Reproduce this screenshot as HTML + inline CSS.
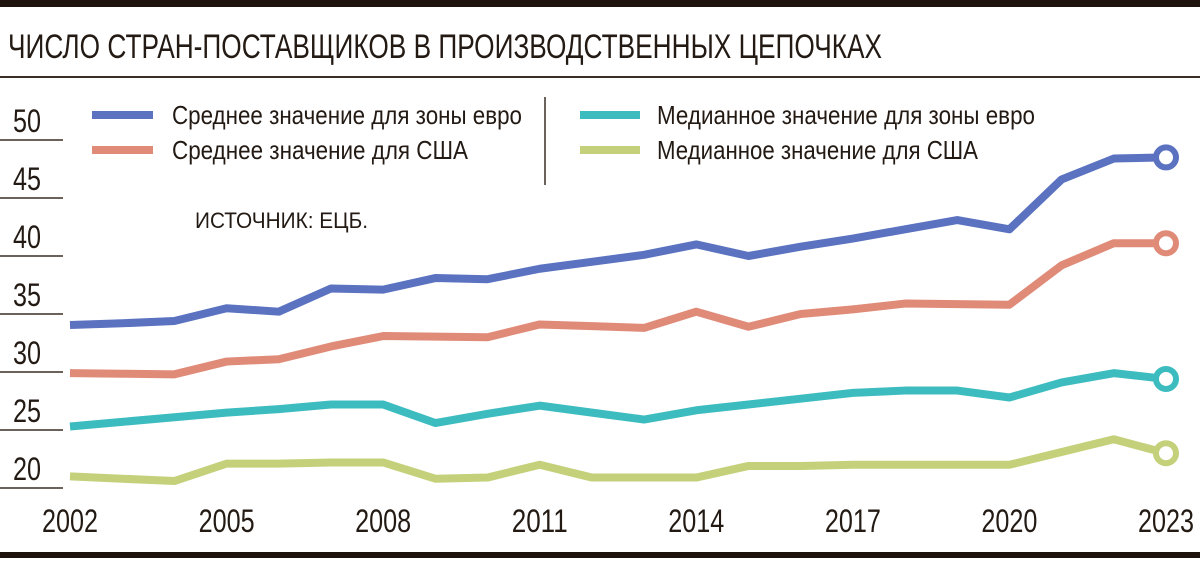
<!DOCTYPE html>
<html><head><meta charset="utf-8">
<style>
body{margin:0;width:1200px;height:558px;background:#fff;overflow:hidden;font-family:"Liberation Sans Narrow","Liberation Sans",sans-serif;color:#231a14}
svg text{font-family:"Liberation Sans Narrow","Liberation Sans",sans-serif;fill:#231a14}
</style></head>
<body>
<svg id="chart" width="1200" height="558">
<rect x="0" y="0" width="1200" height="7" fill="#1e120c"/>
<text x="8" y="58" font-size="34" textLength="874" lengthAdjust="spacingAndGlyphs">ЧИСЛО СТРАН-ПОСТАВЩИКОВ В ПРОИЗВОДСТВЕННЫХ ЦЕПОЧКАХ</text>
<line x1="0" y1="77" x2="1200" y2="77" stroke="#3a2e26" stroke-width="2"/>
<rect x="0" y="552" width="1200" height="6" fill="#1e120c"/>
<g>
<line x1="92" y1="115" x2="153" y2="115" stroke="#5a72c0" stroke-width="8"/>
<text x="172" y="124" font-size="26" textLength="350" lengthAdjust="spacingAndGlyphs">Среднее значение для зоны евро</text>
<line x1="92" y1="150" x2="153" y2="150" stroke="#e08a78" stroke-width="8"/>
<text x="172" y="159" font-size="26" textLength="296" lengthAdjust="spacingAndGlyphs">Среднее значение для США</text>
<line x1="545" y1="97" x2="545" y2="185" stroke="#3a2e26" stroke-width="1.5"/>
<line x1="580" y1="115" x2="640" y2="115" stroke="#3dbcc0" stroke-width="8"/>
<text x="657" y="124" font-size="26" textLength="378" lengthAdjust="spacingAndGlyphs">Медианное значение для зоны евро</text>
<line x1="580" y1="150" x2="640" y2="150" stroke="#c5d17a" stroke-width="8"/>
<text x="657" y="159" font-size="26" textLength="321" lengthAdjust="spacingAndGlyphs">Медианное значение для США</text>
</g>
<text x="195" y="228" font-size="22" textLength="173" lengthAdjust="spacingAndGlyphs">ИСТОЧНИК: ЕЦБ.</text>
<g id="axes"></g>
<g id="series"></g>
</svg>
<script>
const years=[2002,2003,2004,2005,2006,2007,2008,2009,2010,2011,2012,2013,2014,2015,2016,2017,2018,2019,2020,2021,2022,2023];
const meanEuro=[34.05,34.2,34.4,35.5,35.2,37.2,37.1,38.1,38.0,38.9,39.5,40.1,41.0,40.0,40.8,41.5,42.3,43.1,42.3,46.6,48.4,48.5];
const meanUS=[29.9,29.85,29.8,30.9,31.1,32.2,33.1,33.05,33.0,34.1,33.95,33.8,35.2,33.9,35.0,35.4,35.9,35.85,35.8,39.2,41.1,41.1];
const medianEuro=[25.3,25.7,26.1,26.5,26.8,27.2,27.2,25.6,26.4,27.1,26.5,25.9,26.7,27.2,27.7,28.2,28.4,28.4,27.8,29.1,29.9,29.4];
const medianUS=[21.0,20.8,20.6,22.1,22.1,22.2,22.2,20.8,20.9,22.0,20.9,20.9,20.9,21.9,21.9,22.0,22.0,22.0,22.0,23.1,24.2,23.0];
const yTicks=[20,25,30,35,40,45,50];
const xTicks=[2002,2005,2008,2011,2014,2017,2020,2023];
const NS='http://www.w3.org/2000/svg';
function xs(y){return 70+(y-2002)*(1166-70)/21;}
function ys(v){return 488-(v-20)*11.6;}
const axes=document.getElementById('axes');
const series=document.getElementById('series');
function mk(tag,attrs,parent){const e=document.createElementNS(NS,tag);for(const k in attrs)e.setAttribute(k,attrs[k]);parent.appendChild(e);return e;}
yTicks.forEach(t=>{
  const l=mk('line',{x1:0,x2:63,y1:ys(t),y2:ys(t),stroke:'#3a2e26','stroke-width':1.5},axes);
  
  
  const tx=mk('text',{x:13,y:ys(t)-8,'font-size':32,textLength:28,lengthAdjust:'spacingAndGlyphs'},axes);
  tx.textContent=t;
  
  
});
xTicks.forEach(t=>{
  const tx=mk('text',{x:xs(t)-28,y:532,'font-size':32,textLength:56,lengthAdjust:'spacingAndGlyphs'},axes);
  tx.textContent=t;
  
  
});
const defs=[[meanEuro,'#5a72c0','line-mean-euro'],[meanUS,'#e08a78','line-mean-us'],[medianEuro,'#3dbcc0','line-median-euro'],[medianUS,'#c5d17a','line-median-us']];
defs.forEach(([vals,col,name])=>{
  const pts=vals.map((v,i)=>xs(years[i])+','+ys(v)).join(' ');
  const p=mk('polyline',{points:pts,fill:'none',stroke:col,'stroke-width':8,'stroke-linejoin':'round'},series);
  
  
  const n=vals.length-1;
  const c=mk('circle',{cx:xs(years[n]),cy:ys(vals[n]),r:10,fill:'#fff',stroke:col,'stroke-width':6},series);
  
  
});
</script>
</body></html>
